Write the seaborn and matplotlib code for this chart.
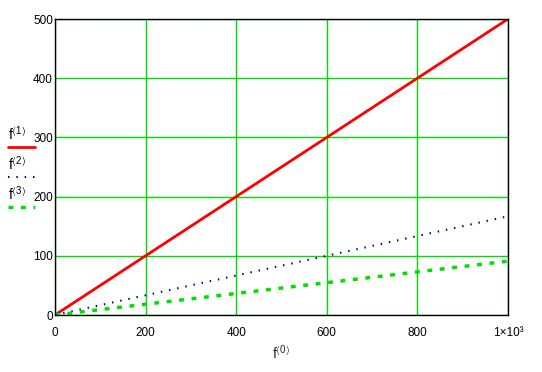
import numpy as np
import pandas as pd
import matplotlib
matplotlib.use("Agg")
import matplotlib.pyplot as plt
from matplotlib.lines import Line2D
import seaborn as sns

# values (straight lines, so the end points are enough)
x_vals = [0, 1000]
f1_vals = [0, 500]
f2_vals = [0, 166.7]
f3_vals = [0, 91]
series_names = ["f1", "f2", "f3"]
legend_labels = [r"$\mathregular{f^{\langle 1\rangle}}$",
                 r"$\mathregular{f^{\langle 2\rangle}}$",
                 r"$\mathregular{f^{\langle 3\rangle}}$"]
x_ticks = [0, 200, 400, 600, 800, 1000]
x_ticklabels = ["0", "200", "400", "600", "800", "1×10³"]
y_ticks = [0, 100, 200, 300, 400, 500]

df = pd.DataFrame({"x": x_vals, "f1": f1_vals, "f2": f2_vals, "f3": f3_vals})

sns.set_style("white")
plt.rcParams["font.family"] = ["Liberation Sans", "DejaVu Sans"]
plt.rcParams["mathtext.fontset"] = "custom"
plt.rcParams["mathtext.rm"] = "Liberation Serif"
plt.rcParams["text.color"] = "black"
plt.rcParams["xtick.color"] = "black"
plt.rcParams["ytick.color"] = "black"

fig = plt.figure(figsize=(5.42, 3.72), dpi=100)
ax = fig.add_axes([55 / 542, 1 - 315 / 372, 453 / 542, 296 / 372])

colors = ["#ff0000", "#00008b", "#00e000"]
styles = ["-", (0, (0.7, 3.3)), (0, (1.4, 2.2))]
widths = [2.0, 1.5, 2.5]

for name, c, ls, lw in zip(series_names, colors, styles, widths):
    sns.lineplot(data=df, x="x", y=name, ax=ax, color=c, linestyle=ls, linewidth=lw)

ax.set_xlim(0, 1000)
ax.set_ylim(0, 500)
ax.set_xticks(x_ticks)
ax.set_xticklabels(x_ticklabels)
ax.set_yticks(y_ticks)
ax.grid(True, color="#00dd00", linewidth=1.0)
ax.set_axisbelow(True)
for sp in ax.spines.values():
    sp.set_visible(True)
    sp.set_color("black")
    sp.set_linewidth(1.0)
ax.tick_params(length=0, labelsize=8.5)
ax.tick_params(axis="x", pad=9)
ax.tick_params(axis="y", pad=1.5)
ax.set_xlabel(r"$\mathregular{f^{\langle 0\rangle}}$", fontsize=10, labelpad=3)
ax.set_ylabel("")

# legend outside on the left, drawn by hand in Mathcad style
text_y = [140, 170, 200]
line_y = [147, 177, 207]
for lab, c, ls, lw, ty, ly in zip(legend_labels, colors, styles, widths, text_y, line_y):
    fig.text(8 / 542, 1 - ty / 372, lab, fontsize=10, ha="left", va="baseline")
    fig.add_artist(Line2D([8 / 542, 35 / 542], [1 - ly / 372, 1 - ly / 372],
                          color=c, linestyle=ls, linewidth=lw))

fig.savefig("out.png", dpi=100)
